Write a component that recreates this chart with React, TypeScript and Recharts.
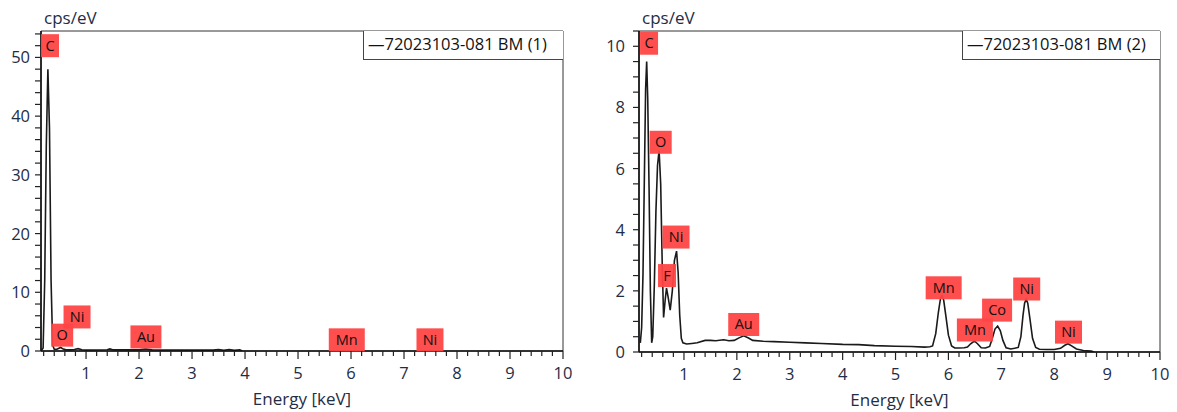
import React from "react";
import { ComposedChart, Line, XAxis, YAxis, ReferenceDot, ReferenceArea } from "recharts";

// spectrum 1 (BM (1)) - keV / cps per eV
const energy1 = [0.15, 0.19, 0.22, 0.25, 0.28, 0.31, 0.34, 0.37, 0.4, 0.45, 0.52, 0.56, 0.62, 0.7, 0.78, 0.85, 0.92, 1.0, 1.4, 1.45, 1.5, 2.0, 2.12, 2.25, 3.0, 3.4, 3.5, 3.6, 3.7, 3.8, 3.9, 3.95];
const cps1 = [0, 0.5, 12, 35, 48, 38, 12, 1.0, 0.3, 0.3, 0.6, 0.4, 0.2, 0.2, 0.25, 0.4, 0.2, 0.15, 0.2, 0.35, 0.2, 0.2, 0.35, 0.2, 0.15, 0.15, 0.25, 0.1, 0.25, 0.1, 0.2, 0];

// spectrum 2 (BM (2))
const energy2 = [
  0.175, 0.2, 0.225, 0.25, 0.275, 0.295, 0.315, 0.34, 0.365, 0.39, 0.41, 0.44, 0.47, 0.5, 0.53, 0.56, 0.59, 0.615,
  0.645, 0.67, 0.7, 0.74, 0.78, 0.82, 0.86, 0.89, 0.92, 0.95, 0.98, 1.05, 1.15, 1.25, 1.4, 1.5, 1.6, 1.75, 1.85,
  1.95, 2.05, 2.13, 2.22, 2.3, 2.5, 2.7, 3.0, 3.3, 3.6, 4.0, 4.3, 4.6, 5.0, 5.3, 5.55, 5.65, 5.7, 5.76, 5.81, 5.85,
  5.88, 5.91, 5.95, 6.0, 6.06, 6.12, 6.2, 6.3, 6.36, 6.42, 6.49, 6.55, 6.62, 6.7, 6.78, 6.83, 6.88, 6.93, 6.98, 7.03,
  7.09, 7.18, 7.25, 7.32, 7.37, 7.41, 7.44, 7.47, 7.5, 7.54, 7.59, 7.65, 7.72, 7.85, 8.0, 8.12, 8.2, 8.26, 8.33,
  8.42, 8.55, 8.7, 8.75,
];
const cps2 = [
  0.3, 0.8, 2.5, 5.5, 8.6, 9.5, 8.3, 5.4, 2.0, 0.3, 0.5, 2.2, 4.6, 6.1, 6.6, 5.5, 2.8, 1.13,
  1.7, 2.09, 1.8, 1.37, 2.0, 3.0, 3.3, 2.6, 1.2, 0.45, 0.3, 0.26, 0.28, 0.3, 0.38, 0.38, 0.37, 0.4, 0.37,
  0.38, 0.47, 0.53, 0.46, 0.38, 0.35, 0.34, 0.32, 0.3, 0.28, 0.25, 0.24, 0.21, 0.19, 0.18, 0.16, 0.17, 0.2, 0.6, 1.3, 1.75,
  1.84, 1.7, 1.2, 0.55, 0.2, 0.13, 0.13, 0.14, 0.16, 0.27, 0.36, 0.27, 0.14, 0.13, 0.18, 0.45, 0.75, 0.85, 0.7, 0.38,
  0.14, 0.1, 0.12, 0.15, 0.5, 1.2, 1.6, 1.73, 1.6, 1.1, 0.45, 0.15, 0.09, 0.08, 0.08, 0.12, 0.22, 0.27, 0.2,
  0.1, 0.05, 0.03, 0,
];

// element tags: name, energy, cps (centre of the tag)
const tagNames1 = ["C", "O", "Ni", "Au", "Mn", "Ni"];
const tagEnergy1 = [0.32, 0.55, 0.83, 2.13, 5.92, 7.49];
const tagCps1 = [52, 2.7, 5.8, 2.4, 1.9, 1.9];

const tagNames2 = ["C", "O", "F", "Ni", "Au", "Mn", "Mn", "Co", "Ni", "Ni"];
const tagEnergy2 = [0.34, 0.56, 0.68, 0.85, 2.13, 5.91, 6.5, 6.92, 7.48, 8.27];
const tagCps2 = [10.1, 6.86, 2.5, 3.76, 0.9, 2.1, 0.72, 1.37, 2.06, 0.65];

const xLabels = [1, 2, 3, 4, 5, 6, 7, 8, 9, 10];
const yLabels1 = [0, 10, 20, 30, 40, 50];
const yLabels2 = [0, 2, 4, 6, 8, 10];

const FONT = "'Open Sans', 'DejaVu Sans', sans-serif";
const TEXT = "#1f2d45";
const TAG_W: Record<string, number> = { C: 18, O: 22, F: 18, Ni: 27, Au: 31, Mn: 36, Co: 30 };

const xTicks = Array.from({ length: 50 }, (_, i) => Math.round((i + 1) * 2) / 10);

const Tag = (name: string) => (props: any) => {
  const w = TAG_W[name] || 28;
  const h = 23;
  return (
    <g>
      <rect x={props.cx - w / 2} y={props.cy - h / 2} width={w} height={h} fill="#ff4444" opacity={0.95} />
      <text x={props.cx} y={props.cy + 5} textAnchor="middle" fontSize={14.5} fontFamily={FONT} fill="#111">
        {name}
      </text>
    </g>
  );
};

const XTick = (props: any) => {
  const v = props.payload.value;
  const major = xLabels.includes(v);
  return (
    <g>
      <line x1={props.x} x2={props.x} y1={props.y} y2={props.y + (major ? 8 : 5)} stroke="#222" strokeWidth={1.2} />
      {major && (
        <text x={props.x} y={props.y + 28} textAnchor="middle" fontSize={16.5} fontFamily={FONT} fill={TEXT}>
          {v}
        </text>
      )}
    </g>
  );
};

const makeYTick = (labels: number[], gap: number) => (props: any) => {
  const v = props.payload.value;
  const major = labels.includes(v);
  return (
    <g>
      <line x1={props.x} x2={props.x - 6} y1={props.y} y2={props.y} stroke="#222" strokeWidth={1.2} />
      {major && (
        <text x={props.x - gap} y={props.y + 6} textAnchor="end" fontSize={16.5} fontFamily={FONT} fill={TEXT}>
          {v}
        </text>
      )}
    </g>
  );
};

interface SpectrumProps {
  left: number;
  width: number;
  energy: number[];
  cps: number[];
  tagNames: string[];
  tagEnergy: number[];
  tagCps: number[];
  yMax: number;
  yStep: number;
  yLabels: number[];
  yAxisWidth: number;
  marginRight: number;
  marginBottom: number;
  labelGap: number;
  legend: string;
  legendWidth: number;
}

const Spectrum = (p: SpectrumProps) => {
  const data = p.energy.map((e, i) => ({ e, v: p.cps[i] }));
  const nY = Math.round(p.yMax / p.yStep);
  const yTicks = Array.from({ length: nY + 1 }, (_, i) => Math.round(i * p.yStep * 10) / 10);
  const plotRight = p.width - p.marginRight;
  return (
    <div style={{ position: "absolute", left: p.left, top: 0, width: p.width, height: 412 }}>
      <ComposedChart
        width={p.width}
        height={412}
        data={data}
        margin={{ top: 31, right: p.marginRight, bottom: p.marginBottom, left: 0 }}
      >
        <ReferenceArea x1={0.15} x2={10} y1={0} y2={p.yMax} fill="none" stroke="#333" strokeWidth={1} ifOverflow="visible" />
        <XAxis
          dataKey="e"
          type="number"
          domain={[0.15, 10]}
          ticks={xTicks}
          allowDataOverflow
          tick={<XTick />}
          tickSize={0}
          tickMargin={0}
          tickLine={false}
          axisLine={{ stroke: "#111", strokeWidth: 1.6 }}
          height={56}
          interval={0}
          label={{ value: "Energy [keV]", position: "insideBottom", offset: 2, fontSize: 17, fontFamily: FONT, fill: TEXT }}
        />
        <YAxis
          type="number"
          domain={[0, p.yMax]}
          ticks={yTicks}
          allowDataOverflow
          tick={makeYTick(p.yLabels, p.labelGap)}
          tickSize={0}
          tickMargin={0}
          tickLine={false}
          axisLine={{ stroke: "#111", strokeWidth: 1.6 }}
          width={p.yAxisWidth}
          interval={0}
        />
        <Line dataKey="v" type="linear" stroke="#1a1a1a" strokeWidth={1.6} dot={false} isAnimationActive={false} />
        {p.tagNames.map((n, i) => (
          <ReferenceDot key={i} x={p.tagEnergy[i]} y={p.tagCps[i]} shape={Tag(n)} ifOverflow="visible" />
        ))}
      </ComposedChart>
      <div
        style={{
          position: "absolute",
          left: p.yAxisWidth + 3,
          top: 6,
          fontSize: 17,
          fontFamily: FONT,
          color: TEXT,
        }}
      >
        cps/eV
      </div>
      <div
        style={{
          position: "absolute",
          left: plotRight - p.legendWidth,
          top: 31,
          width: p.legendWidth,
          height: 29,
          boxSizing: "border-box",
          border: "1px solid #444",
          borderTop: "none",
          borderRight: "none",
          fontSize: 16.5,
          fontFamily: FONT,
          color: "#111",
          paddingLeft: 4,
          lineHeight: "26px",
          background: "#fff",
          whiteSpace: "nowrap",
        }}
      >
        —{p.legend}
      </div>
    </div>
  );
};

export default function App() {
  return (
    <div style={{ position: "absolute", left: 0, top: 0, width: 1177, height: 412, background: "#fff" }}>
      <Spectrum
        left={0}
        width={588}
        energy={energy1}
        cps={cps1}
        tagNames={tagNames1}
        tagEnergy={tagEnergy1}
        tagCps={tagCps1}
        yMax={54.5}
        yStep={2}
        yLabels={yLabels1}
        yAxisWidth={41}
        marginRight={25}
        marginBottom={5}
        labelGap={11}
        legend="72023103-081 BM (1)"
        legendWidth={200}
      />
      <Spectrum
        left={588}
        width={589}
        energy={energy2}
        cps={cps2}
        tagNames={tagNames2}
        tagEnergy={tagEnergy2}
        tagCps={tagCps2}
        yMax={10.5}
        yStep={0.5}
        yLabels={yLabels2}
        yAxisWidth={51}
        marginRight={17}
        marginBottom={4}
        labelGap={14}
        legend="72023103-081 BM (2)"
        legendWidth={198}
      />
    </div>
  );
}
